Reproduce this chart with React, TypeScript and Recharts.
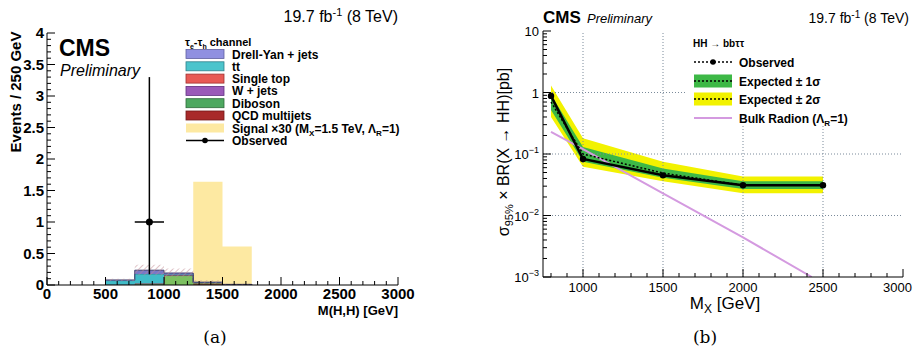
import React from 'react';
import { ComposedChart, Area, Line, Scatter, XAxis, YAxis, ErrorBar, ReferenceLine } from 'recharts';

const FONT = '"Liberation Sans", Arial, Helvetica, sans-serif';
const SERIF = '"DejaVu Serif", "Liberation Serif", serif';

// ---------------- Panel (a): histogram ----------------
const binEdges = [500, 750, 1000, 1250, 1500, 1750];
const qcd = [0, 0.005, 0, 0.01, 0, 0];
const diboson = [0.005, 0.01, 0.15, 0.025, 0.005, 0];
const wjets = [0, 0.005, 0.005, 0, 0, 0];
const singleTop = [0, 0.005, 0, 0, 0, 0];
const ttbar = [0.065, 0.15, 0.01, 0.005, 0, 0];
const drellYan = [0.01, 0.06, 0.025, 0.005, 0.005, 0];
const bkgErr = [0.02, 0.085, 0.07, 0.03, 0.01, 0];
const signal30 = [0, 0, 0, 1.64, 0.61, 0];

const obsMass = [875];
const obsEvents = [1];
const obsBinHalf = [125];
const obsErrLow = [0.83];
const obsErrHigh = [2.3];

const xMajorA = [0, 500, 1000, 1500, 2000, 2500, 3000];
const yMajorA = [0, 0.5, 1, 1.5, 2, 2.5, 3, 3.5, 4];
const yLabelsA = ['0', '0.5', '1', '1.5', '2', '2.5', '3', '3.5', '4'];

const xTicksA: number[] = [];
for (let v = 0; v <= 3000; v += 100) xTicksA.push(v);
const yTicksA: number[] = [];
for (let k = 0; k <= 40; k++) yTicksA.push(Math.round(k * 10) / 100);

const histData = binEdges.map((x, i) => {
  const total = qcd[i] + diboson[i] + wjets[i] + singleTop[i] + ttbar[i] + drellYan[i];
  return {
    x,
    qcd: qcd[i],
    diboson: diboson[i],
    wjets: wjets[i],
    singleTop: singleTop[i],
    ttbar: ttbar[i],
    drellYan: drellYan[i],
    signal: signal30[i],
    unc: [Math.max(0, total - bkgErr[i]), total + bkgErr[i]],
  };
});

const obsData = obsMass.map((x, i) => ({
  x,
  y: obsEvents[i],
  ex: obsBinHalf[i],
  ey: [obsErrLow[i], obsErrHigh[i]],
}));

// ---------------- Panel (b): limits ----------------
const massPoints = [800, 1000, 1500, 2000, 2500];
const observed = [0.88, 0.083, 0.045, 0.031, 0.031];
const expected = [0.7, 0.1, 0.049, 0.031, 0.031];
const exp1Low = [0.52, 0.075, 0.041, 0.027, 0.027];
const exp1High = [0.92, 0.13, 0.058, 0.036, 0.036];
const exp2Low = [0.4, 0.062, 0.036, 0.023, 0.023];
const exp2High = [1.3, 0.18, 0.075, 0.043, 0.043];
const radionMass = [800, 1000, 1500, 2000, 2430];
const radionXsec = [0.23, 0.12, 0.023, 0.0044, 0.001];

const xMajorB = [1000, 1500, 2000, 2500, 3000];
const yMajorB = [0.001, 0.01, 0.1, 1, 10];
const yExpB = ['−3', '−2', '−1', '', ''];
const yBaseB = ['10', '10', '10', '1', '10'];
const gridXB = [1000, 1500, 2000, 2500];
const gridYB = [0.01, 0.1, 1];

const xTicksB: number[] = [];
for (let v = 800; v <= 3000; v += 100) xTicksB.push(v);
const yTicksB: number[] = [];
for (let d = -3; d <= 0; d++) {
  for (let k = 1; k <= 9; k++) yTicksB.push(parseFloat((k * Math.pow(10, d)).toPrecision(6)));
}
yTicksB.push(10);

const limitData = massPoints.map((m, i) => ({
  m,
  obs: observed[i],
  exp: expected[i],
  band1: [exp1Low[i], exp1High[i]],
  band2: [exp2Low[i], exp2High[i]],
}));
const radionData = radionMass.map((m, i) => ({ m, xsec: radionXsec[i] }));

// ---------------- tick helpers ----------------
const near = (a: number, b: number) => Math.abs(a - b) < 1e-6;
const isIn = (arr: number[], v: number) => arr.some((a) => near(a, v));
const isLogMajor = (v: number) => isIn(yMajorB, v);

type Side = 'bottom' | 'top' | 'left' | 'right';

function makeTick(side: Side, isMajor: (v: number) => boolean, majorLen: number, minorLen: number,
  label?: (v: number, x: number, y: number) => React.ReactNode) {
  return (props: any) => {
    const { x, y, payload } = props;
    const v = payload.value;
    const major = isMajor(v);
    const len = major ? majorLen : minorLen;
    let l: any = null;
    if (side === 'bottom') l = { x1: x, x2: x, y1: y, y2: y - len };
    if (side === 'top') l = { x1: x, x2: x, y1: y, y2: y + len };
    if (side === 'left') l = { x1: x, x2: x + len, y1: y, y2: y };
    if (side === 'right') l = { x1: x, x2: x - len, y1: y, y2: y };
    return (
      <g>
        <line {...l} stroke="#000" strokeWidth={1} />
        {major && label ? label(v, x, y) : null}
      </g>
    );
  };
}

const labA = { fontFamily: FONT, fontWeight: 700, fontSize: 15, fill: '#000' } as const;
const labB = { fontFamily: FONT, fontWeight: 400, fontSize: 13, fill: '#000' } as const;

const tickA_bottom = makeTick('bottom', (v) => isIn(xMajorA, v), 8, 4, (v, x, y) => (
  <text x={x} y={y + 14} textAnchor="middle" {...labA}>{String(v)}</text>
));
const tickA_top = makeTick('top', (v) => isIn(xMajorA, v), 8, 4);
const tickA_left = makeTick('left', (v) => isIn(yMajorA, v), 8, 4, (v, x, y) => {
  const idx = yMajorA.findIndex((a) => near(a, v));
  return <text x={x - 3} y={y + 5} textAnchor="end" {...labA}>{yLabelsA[idx]}</text>;
});
const tickA_right = makeTick('right', (v) => isIn(yMajorA, v), 8, 4);

const tickB_bottom = makeTick('bottom', (v) => isIn(xMajorB, v), 8, 4, (v, x, y) => {
  const last = v === xMajorB[xMajorB.length - 1];
  return (
    <text x={last ? x + 9 : x} y={y + 15} textAnchor={last ? 'end' : 'middle'} {...labB}>{String(v)}</text>
  );
});
const tickB_top = makeTick('top', (v) => isIn(xMajorB, v), 8, 4);
const tickB_left = makeTick('left', isLogMajor, 8, 4, (v, x, y) => {
  const idx = yMajorB.findIndex((a) => near(a, v));
  const sup = yExpB[idx];
  return (
    <text x={x - 4} y={y + 5} textAnchor="end" {...labB}>
      {yBaseB[idx]}
      {sup ? <tspan dy={-6} fontSize={9}>{sup}</tspan> : null}
    </text>
  );
});
const tickB_right = makeTick('right', isLogMajor, 8, 4);

// ---------------- legend entries ----------------
const legendA = [
  { name: 'Drell-Yan + jets', fill: '#9090e0', stroke: '#6060a0' },
  { name: 'tt', fill: '#4cc4cc', stroke: '#30808a' },
  { name: 'Single top', fill: '#e85a55', stroke: '#a03030' },
  { name: 'W + jets', fill: '#9a5ab8', stroke: '#603080' },
  { name: 'Diboson', fill: '#4ea860', stroke: '#2e6a3a' },
  { name: 'QCD multijets', fill: '#a82a2a', stroke: '#701818' },
];

const GREEN = '#3db846';
const YELLOW = '#f2f200';
const PINK = '#d49ae0';

export default function App() {
  return (
    <div style={{ position: 'absolute', left: 0, top: 0, width: 913, height: 350, background: '#fff', overflow: 'hidden' }}>
      {/* Panel (a) */}
      <div style={{ position: 'absolute', left: 0, top: 0 }}>
        <ComposedChart width={420} height={350} data={histData} margin={{ top: 33, right: 22, bottom: 0, left: 0 }}>
          <defs>
            <pattern id="hatchA" patternUnits="userSpaceOnUse" width="4" height="4" patternTransform="rotate(45)">
              <line x1="0" y1="0" x2="0" y2="4" stroke="#c08890" strokeWidth="1" />
            </pattern>
          </defs>
          <XAxis dataKey="x" type="number" domain={[0, 3000]} allowDataOverflow ticks={xTicksA} interval={0}
            height={65} tickSize={0} tickMargin={0} tickLine={false} axisLine={{ stroke: '#000' }} tick={tickA_bottom} />
          <XAxis xAxisId="top" orientation="top" type="number" domain={[0, 3000]} allowDataOverflow ticks={xTicksA}
            interval={0} height={0} tickSize={0} tickMargin={0} tickLine={false} axisLine={{ stroke: '#000' }} tick={tickA_top} />
          <YAxis dataKey="y" type="number" domain={[0, 4]} allowDataOverflow ticks={yTicksA} interval={0}
            width={47} tickSize={0} tickMargin={0} tickLine={false} axisLine={{ stroke: '#000' }} tick={tickA_left} />
          <YAxis yAxisId="right" orientation="right" type="number" domain={[0, 4]} allowDataOverflow ticks={yTicksA}
            interval={0} width={0} tickSize={0} tickMargin={0} tickLine={false} axisLine={{ stroke: '#000' }} tick={tickA_right} />

          <Area type="stepAfter" dataKey="signal" fill="#fde9a2" fillOpacity={1} stroke="none" isAnimationActive={false} />
          <Area type="stepAfter" dataKey="qcd" stackId="bkg" fill="#a82a2a" fillOpacity={1} stroke="#701818" strokeWidth={0.8} isAnimationActive={false} />
          <Area type="stepAfter" dataKey="diboson" stackId="bkg" fill="#7cc060" fillOpacity={1} stroke="#3e7a3a" strokeWidth={0.8} isAnimationActive={false} />
          <Area type="stepAfter" dataKey="wjets" stackId="bkg" fill="#9a5ab8" fillOpacity={1} stroke="#603080" strokeWidth={0.8} isAnimationActive={false} />
          <Area type="stepAfter" dataKey="singleTop" stackId="bkg" fill="#e85a55" fillOpacity={1} stroke="#a03030" strokeWidth={0.8} isAnimationActive={false} />
          <Area type="stepAfter" dataKey="ttbar" stackId="bkg" fill="#40bcc8" fillOpacity={1} stroke="#2a7a88" strokeWidth={0.8} isAnimationActive={false} />
          <Area type="stepAfter" dataKey="drellYan" stackId="bkg" fill="#7878c8" fillOpacity={1} stroke="#404070" strokeWidth={1} isAnimationActive={false} />
          <Area type="stepAfter" dataKey="unc" fill="url(#hatchA)" fillOpacity={1} stroke="none" isAnimationActive={false} />

          <Scatter data={obsData} dataKey="y" fill="#000" isAnimationActive={false}
            shape={(p: any) => <circle cx={p.cx} cy={p.cy} r={3.5} fill="#000" />}>
            <ErrorBar dataKey="ex" direction="x" width={0} stroke="#000" strokeWidth={1.5} />
            <ErrorBar dataKey="ey" direction="y" width={0} stroke="#000" strokeWidth={1.5} />
          </Scatter>
        </ComposedChart>
      </div>

      {/* Panel (b) */}
      <div style={{ position: 'absolute', left: 460, top: 0 }}>
        <ComposedChart width={453} height={350} data={limitData} margin={{ top: 31, right: 10, bottom: 0, left: 0 }}>
          <XAxis dataKey="m" type="number" domain={[750, 3000]} allowDataOverflow ticks={xTicksB} interval={0}
            height={73} tickSize={0} tickMargin={0} tickLine={false} axisLine={{ stroke: '#000' }} tick={tickB_bottom} />
          <XAxis xAxisId="top" orientation="top" type="number" domain={[750, 3000]} allowDataOverflow ticks={xTicksB}
            interval={0} height={0} tickSize={0} tickMargin={0} tickLine={false} axisLine={{ stroke: '#000' }} tick={tickB_top} />
          <YAxis type="number" scale="log" domain={[0.001, 10]} allowDataOverflow ticks={yTicksB} interval={0}
            width={83} tickSize={0} tickMargin={0} tickLine={false} axisLine={{ stroke: '#000' }} tick={tickB_left} />
          <YAxis yAxisId="right" orientation="right" type="number" scale="log" domain={[0.001, 10]} allowDataOverflow
            ticks={yTicksB} interval={0} width={0} tickSize={0} tickMargin={0} tickLine={false} axisLine={{ stroke: '#000' }} tick={tickB_right} />

          {gridXB.map((v) => (
            <ReferenceLine key={'gx' + v} x={v} stroke="#7a8a9a" strokeDasharray="1 2" strokeWidth={1} />
          ))}
          {gridYB.map((v) => (
            <ReferenceLine key={'gy' + v} y={v} stroke="#7a8a9a" strokeDasharray="1 2" strokeWidth={1} />
          ))}

          <Area type="linear" dataKey="band2" fill={YELLOW} fillOpacity={1} stroke="none" isAnimationActive={false} />
          <Area type="linear" dataKey="band1" fill={GREEN} fillOpacity={1} stroke="none" isAnimationActive={false} />
          <Line type="linear" data={radionData} dataKey="xsec" stroke={PINK} strokeWidth={2} dot={false} isAnimationActive={false} />
          <Line type="linear" dataKey="exp" stroke="#000" strokeWidth={1.5} strokeDasharray="2 2" dot={false} isAnimationActive={false} />
          <Line type="linear" dataKey="obs" stroke="#000" strokeWidth={2.5} isAnimationActive={false}
            dot={(p: any) => <circle key={'d' + p.index} cx={p.cx} cy={p.cy} r={3.2} fill="#000" stroke="none" />} />
        </ComposedChart>
      </div>

      {/* Text & legends overlay */}
      <svg width={913} height={350} style={{ position: 'absolute', left: 0, top: 0, pointerEvents: 'none' }}>
        {/* Panel (a) texts */}
        <text x={398} y={22} textAnchor="end" fontFamily={FONT} fontSize={16} fill="#000">
          19.7 fb<tspan dy={-6} fontSize={11}>-1</tspan><tspan dy={6}> (8 TeV)</tspan>
        </text>
        <text x={59} y={56} fontFamily={FONT} fontWeight={700} fontSize={23} fill="#000">CMS</text>
        <text x={60} y={76} fontFamily={FONT} fontStyle="italic" fontSize={16} fill="#000">Preliminary</text>
        <text transform="translate(21,92) rotate(-90)" textAnchor="middle" fontFamily={FONT} fontWeight={700} fontSize={15} fill="#000">
          Events / 250 GeV
        </text>
        <text x={398} y={315} textAnchor="end" fontFamily={FONT} fontWeight={700} fontSize={13} fill="#000">M(H,H) [GeV]</text>

        {/* Legend (a) */}
        <text x={185} y={46} fontFamily={FONT} fontWeight={700} fontSize={11} fill="#000">
          τ<tspan dy={3} fontSize={7}>e</tspan><tspan dy={-3}>-τ</tspan><tspan dy={3} fontSize={7}>h</tspan>
          <tspan dy={-3}> channel</tspan>
        </text>
        {legendA.map((e, i) => {
          const cy = 54 + i * 12.3;
          return (
            <g key={e.name}>
              <rect x={186} y={cy - 4.5} width={38} height={9} fill={e.fill} stroke={e.stroke} strokeWidth={0.8} />
              <text x={232} y={cy + 4.5} fontFamily={FONT} fontWeight={700} fontSize={12} fill="#000">{e.name}</text>
            </g>
          );
        })}
        <g>
          <rect x={186} y={128 - 4.5} width={38} height={9} fill="#fde9a2" stroke="none" />
          <text x={232} y={128 + 4.5} fontFamily={FONT} fontWeight={700} fontSize={12} fill="#000">
            Signal ×30 (M<tspan dy={3} fontSize={8}>X</tspan><tspan dy={-3}>=1.5 TeV, Λ</tspan>
            <tspan dy={3} fontSize={8}>R</tspan><tspan dy={-3}>=1)</tspan>
          </text>
        </g>
        <g>
          <line x1={186} x2={224} y1={140.5} y2={140.5} stroke="#000" strokeWidth={1.5} />
          <circle cx={205} cy={140.5} r={2.8} fill="#000" />
          <text x={232} y={145} fontFamily={FONT} fontWeight={700} fontSize={12} fill="#000">Observed</text>
        </g>

        {/* Panel (b) texts */}
        <text x={543} y={23} fontFamily={FONT} fontWeight={700} fontSize={17} fill="#000">CMS</text>
        <text x={587} y={23} fontFamily={FONT} fontStyle="italic" fontSize={13} fill="#000">Preliminary</text>
        <text x={909} y={23} textAnchor="end" fontFamily={FONT} fontSize={14} fill="#000">
          19.7 fb<tspan dy={-5} fontSize={10}>-1</tspan><tspan dy={5}> (8 TeV)</tspan>
        </text>
        <text transform="translate(509,152) rotate(-90)" textAnchor="middle" fontFamily={FONT} fontSize={16} fill="#000">
          σ<tspan dy={4} fontSize={11}>95%</tspan><tspan dy={-4}> × BR(X → HH)[pb]</tspan>
        </text>
        <text x={725} y={309} textAnchor="middle" fontFamily={FONT} fontSize={17} fill="#000">
          M<tspan dy={4} fontSize={12}>X</tspan><tspan dy={-4}> [GeV]</tspan>
        </text>

        {/* Legend (b) */}
        <rect x={686} y={32} width={215} height={94} fill="#fff" />
        <text x={693} y={47} fontFamily={FONT} fontWeight={700} fontSize={10} fill="#000">HH → bbττ</text>
        <g>
          <line x1={694} x2={732} y1={62} y2={62} stroke="#000" strokeWidth={1.5} strokeDasharray="2 2" />
          <circle cx={713} cy={62} r={2.8} fill="#000" />
          <text x={739} y={66.5} fontFamily={FONT} fontWeight={700} fontSize={12} fill="#000">Observed</text>
        </g>
        <g>
          <rect x={694} y={74.5} width={38} height={13} fill={GREEN} />
          <line x1={694} x2={732} y1={81} y2={81} stroke="#000" strokeWidth={1.5} strokeDasharray="2 2" />
          <text x={739} y={85.5} fontFamily={FONT} fontWeight={700} fontSize={12} fill="#000">Expected ± 1σ</text>
        </g>
        <g>
          <rect x={694} y={92.5} width={38} height={13} fill={YELLOW} />
          <line x1={694} x2={732} y1={99} y2={99} stroke="#000" strokeWidth={1.5} strokeDasharray="2 2" />
          <text x={739} y={103.5} fontFamily={FONT} fontWeight={700} fontSize={12} fill="#000">Expected ± 2σ</text>
        </g>
        <g>
          <line x1={694} x2={732} y1={118} y2={118} stroke={PINK} strokeWidth={2} />
          <text x={739} y={122.5} fontFamily={FONT} fontWeight={700} fontSize={12} fill="#000">
            Bulk Radion (Λ<tspan dy={3} fontSize={8}>R</tspan><tspan dy={-3}>=1)</tspan>
          </text>
        </g>

        {/* Captions */}
        <text x={215} y={343} textAnchor="middle" fontFamily={SERIF} fontSize={17} fill="#000">(a)</text>
        <text x={705} y={343} textAnchor="middle" fontFamily={SERIF} fontSize={17} fill="#000">(b)</text>
      </svg>
    </div>
  );
}
